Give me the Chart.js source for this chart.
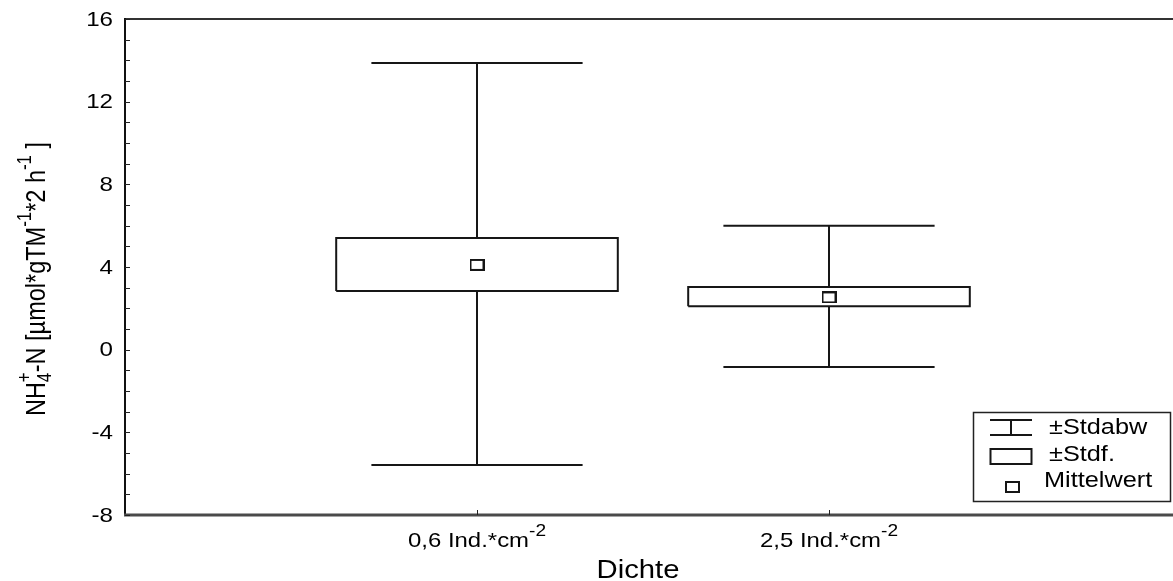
<!DOCTYPE html>
<html>
<head>
<meta charset="utf-8">
<script src="https://cdn.jsdelivr.net/npm/chart.js@4.4.1/dist/chart.umd.min.js"></script>
<style>
html,body{margin:0;padding:0;background:#fff;overflow:hidden;}
#wrap{position:relative;width:1190px;height:581px;}
</style>
</head>
<body>
<div id="wrap"><canvas id="c"></canvas></div>
<script>
// ---- data ----
const categories = ['0,6 Ind.*cm', '2,5 Ind.*cm'];
const categorySup = ['-2', '-2'];
const categoryPos = [1, 2];
const meanValues = [4.10, 2.53];
const stdfLow = [2.84, 2.10];
const stdfHigh = [5.40, 3.03];
const stdabwLow = [-5.58, -0.84];
const stdabwHigh = [13.87, 6.00];
const yTicks = [-8, -4, 0, 4, 8, 12, 16];
const yMinorTicks = [-7,-6,-5,-3,-2,-1,1,2,3,5,6,7,9,10,11,13,14,15];
const legendLabels = ['±Stdabw', '±Stdf.', 'Mittelwert'];
const xTitle = 'Dichte';

// ---- styling constants ----
const LINE = '#161616';
const BOX_HALF = 0.4;
const CAP_HALF = 0.3;
const FONT = '"Liberation Sans", Arial, Helvetica, sans-serif';

// mean marker image
const mk = document.createElement('canvas');
mk.width = 15; mk.height = 12;
(function(){const g = mk.getContext('2d'); g.strokeStyle = LINE; g.lineWidth = 2; g.strokeRect(1,1,13,10);})();

const datasets = [];
function lineDs(points, order){
  return {type:'scatter', data:points, showLine:true, borderColor:LINE, borderWidth:2,
          pointRadius:0, pointHoverRadius:0, tension:0, fill:false, order:order};
}
categoryPos.forEach((x, i) => {
  datasets.push(lineDs([{x:x, y:stdabwLow[i]}, {x:x, y:stdfLow[i]}], 3));
  datasets.push(lineDs([{x:x, y:stdfHigh[i]}, {x:x, y:stdabwHigh[i]}], 3));
  datasets.push(lineDs([{x:x-CAP_HALF, y:stdabwHigh[i]}, {x:x+CAP_HALF, y:stdabwHigh[i]}], 2));
  datasets.push(lineDs([{x:x-CAP_HALF, y:stdabwLow[i]}, {x:x+CAP_HALF, y:stdabwLow[i]}], 2));
  datasets.push(lineDs([
    {x:x-BOX_HALF, y:stdfLow[i]}, {x:x+BOX_HALF, y:stdfLow[i]},
    {x:x+BOX_HALF, y:stdfHigh[i]}, {x:x-BOX_HALF, y:stdfHigh[i]},
    {x:x-BOX_HALF, y:stdfLow[i]}], 1));
});
datasets.push({type:'scatter', data: categoryPos.map((x,i)=>({x:x, y:meanValues[i]})),
  pointStyle: mk, pointRadius: 6, pointHoverRadius: 6, order: 0});

function drawText(ctx, s, x, y, size, sx, align, baseline){
  ctx.save();
  ctx.font = size + 'px ' + FONT;
  ctx.translate(x, y);
  ctx.scale(sx, 1);
  ctx.textAlign = align || 'left';
  ctx.textBaseline = baseline || 'middle';
  ctx.fillStyle = '#000';
  ctx.fillText(s, 0, 0);
  ctx.restore();
}

function drawRich(ctx, segs, size, supr){
  let x = 0, lastX = 0;
  segs.forEach(sg => {
    const fs = sg.s === 'n' ? size : size * supr;
    ctx.font = fs + 'px ' + FONT;
    const w = ctx.measureText(sg.t).width;
    let dy = 0;
    if (sg.s === 'sup') dy = -size * 0.52;
    if (sg.s === 'sub') dy = size * 0.24;
    const px = sg.stack ? lastX : x;
    ctx.fillText(sg.t, px, dy);
    if (sg.stack) { x = Math.max(x, px + w); }
    else { lastX = x; x += w; }
  });
  return x;
}
function measureRich(ctx, segs, size, supr){
  ctx.save();
  let x = 0, lastX = 0;
  segs.forEach(sg => {
    const fs = sg.s === 'n' ? size : size * supr;
    ctx.font = fs + 'px ' + FONT;
    const w = ctx.measureText(sg.t).width;
    const px = sg.stack ? lastX : x;
    if (sg.stack) x = Math.max(x, px + w); else { lastX = x; x += w; }
  });
  ctx.restore();
  return x;
}

const deco = {
  id: 'deco',
  afterDatasetsDraw(chart){
    const ctx = chart.ctx;
    const xs = chart.scales.x, ys = chart.scales.y;
    const a = chart.chartArea;
    ctx.save();
    ctx.lineCap = 'butt';
    ctx.strokeStyle = '#333'; ctx.lineWidth = 2;
    ctx.beginPath(); ctx.moveTo(a.left, a.top); ctx.lineTo(a.right + 2, a.top); ctx.stroke();
    ctx.strokeStyle = '#111'; ctx.lineWidth = 2;
    ctx.beginPath(); ctx.moveTo(a.left, a.top - 1); ctx.lineTo(a.left, a.bottom + 1); ctx.stroke();
    ctx.strokeStyle = '#4a4a4a'; ctx.lineWidth = 3;
    ctx.beginPath(); ctx.moveTo(a.left - 1, a.bottom); ctx.lineTo(a.right + 2, a.bottom); ctx.stroke();
    ctx.strokeStyle = '#222'; ctx.lineWidth = 1;
    yTicks.concat(yMinorTicks).forEach(v => {
      const py = Math.round(ys.getPixelForValue(v)) + 0.5;
      ctx.beginPath(); ctx.moveTo(a.left, py); ctx.lineTo(a.left + 5, py); ctx.stroke();
    });
    categoryPos.forEach(v => {
      const px = Math.round(xs.getPixelForValue(v)) + 0.5;
      ctx.beginPath(); ctx.moveTo(px, a.bottom); ctx.lineTo(px, a.bottom - 5); ctx.stroke();
    });
    // y tick labels
    yTicks.forEach(v => {
      drawText(ctx, String(v), a.left - 12, ys.getPixelForValue(v) + 1, 21, 1.15, 'right', 'middle');
    });
    // x tick labels with superscript
    categoryPos.forEach((v, i) => {
      const size = 21, sx = 1.14, supr = 0.8;
      const segs = [{t: categories[i], s:'n'}, {t: categorySup[i], s:'sup'}];
      const w = measureRich(ctx, segs, size, supr) * sx;
      ctx.save();
      ctx.fillStyle = '#000';
      ctx.translate(xs.getPixelForValue(v) - w / 2, 547);
      ctx.scale(sx, 1);
      drawRich(ctx, segs, size, supr);
      ctx.restore();
    });
    // x title
    drawText(ctx, xTitle, 638, 571, 25, 1.17, 'center', 'middle');
    // y title (rotated)
    {
      const size = 23.5, supr = 0.72;
      const segs = [
        {t:'NH', s:'n'}, {t:'4', s:'sub'}, {t:'+', s:'sup', stack:true},
        {t:'-N [µmol*gTM', s:'n'}, {t:'-1', s:'sup'},
        {t:'*2 h', s:'n'}, {t:'-1', s:'sup'}, {t:' ]', s:'n'}
      ];
      const w = measureRich(ctx, segs, size, supr);
      ctx.save();
      ctx.fillStyle = '#000';
      ctx.translate(45, 279 + w / 2);
      ctx.rotate(-Math.PI / 2);
      ctx.scale(1, 1.15);
      drawRich(ctx, segs, size, supr);
      ctx.restore();
    }
    // legend
    ctx.strokeStyle = '#222'; ctx.lineWidth = 1.5;
    ctx.strokeRect(973.5, 412.5, 197, 89);
    ctx.strokeStyle = LINE; ctx.lineWidth = 2;
    ctx.beginPath();
    ctx.moveTo(990, 420); ctx.lineTo(1032, 420);
    ctx.moveTo(990, 435); ctx.lineTo(1032, 435);
    ctx.moveTo(1011, 420); ctx.lineTo(1011, 435);
    ctx.stroke();
    ctx.strokeRect(990.5, 449, 41, 15);
    ctx.drawImage(mk, 1005, 481);
    drawText(ctx, legendLabels[0], 1049, 428, 22, 1.15, 'left', 'middle');
    drawText(ctx, legendLabels[1], 1049, 455, 22, 1.15, 'left', 'middle');
    drawText(ctx, legendLabels[2], 1044, 481, 22, 1.15, 'left', 'middle');
    ctx.restore();
  }
};

new Chart(document.getElementById('c'), {
  type: 'scatter',
  data: { datasets: datasets },
  options: {
    responsive: true,
    maintainAspectRatio: false,
    animation: false,
    events: [],
    layout: { padding: { left: 125, top: 19, right: 9, bottom: 66 } },
    scales: {
      x: { type: 'linear', min: 0, max: 3, display: false },
      y: { type: 'linear', min: -8, max: 16, display: false }
    },
    plugins: { legend: { display: false }, tooltip: { enabled: false } }
  },
  plugins: [deco]
});
</script>
</body>
</html>
